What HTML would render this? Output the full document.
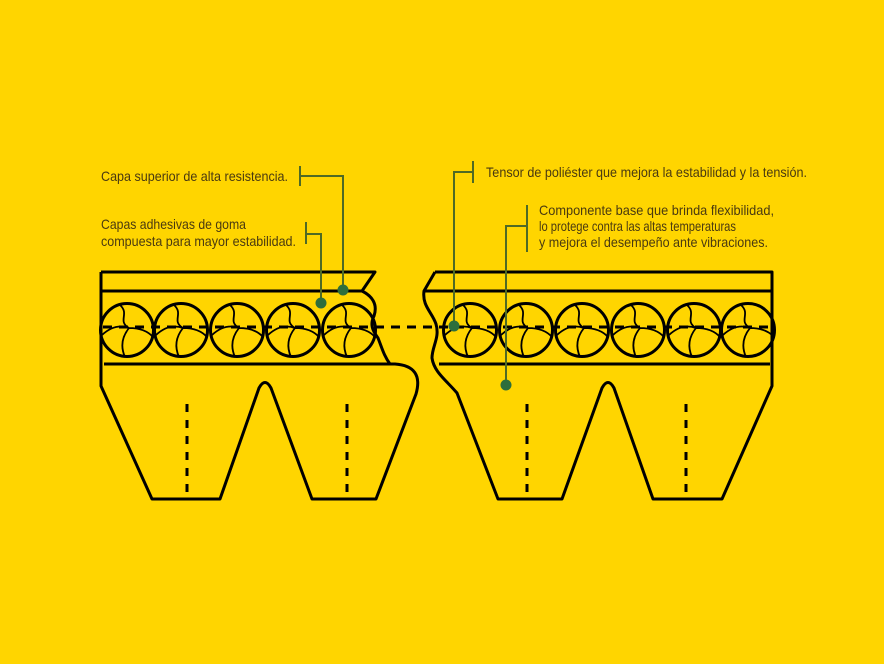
<!DOCTYPE html>
<html><head><meta charset="utf-8"><style>
html,body{margin:0;padding:0;background:#FFD500;}
svg{display:block}
text{font-family:"Liberation Sans Narrow","Liberation Sans",sans-serif;font-size:14px;fill:#4a3a10}
</style></head><body>
<svg width="884" height="664" viewBox="0 0 884 664" xmlns="http://www.w3.org/2000/svg">
<rect width="884" height="664" fill="#FFD500"/>
<defs>
<g id="c">
<circle cx="0" cy="0" r="26.5" fill="none" stroke="#000" stroke-width="3"/>
<path d="M-7,-25 C3,-16 -10,-9 2,-2 C-6,8 -6,18 -2,27 M-25,5 Q-12,-7 2,-2 Q18,-2 26,7" fill="none" stroke="#000" stroke-width="1.8"/>
</g>
</defs>
<g fill="none" stroke="#000" stroke-width="3" stroke-linejoin="round">
<!-- left piece -->
<path d="M101,272 L375,272 L362,291 C372,296 378,304 374,316 C370,324 372,330 378,338 C382,348 384,356 390,364"/>
<path d="M101,272 L101,386 L152,499 L220,499 L259,388 Q265,377 271,388 L312,499 L376,499 L416,394 Q424,366 395,364 L390,364"/>
<line x1="101" y1="291" x2="362" y2="291"/>
<line x1="104" y1="364" x2="391" y2="364"/>
<!-- right piece -->
<path d="M435,272 L772,272 L772,386 L722,499 L653,499 L614,388 Q608,377 602,388 L562,499 L498,499 L457,393 C446,380 434,372 432,358 C432,346 440,338 436,324 C432,312 422,306 424,291 L435,272"/>
<line x1="424" y1="291" x2="772" y2="291"/>
<line x1="439" y1="364" x2="770" y2="364"/>
</g>
<g>
<use href="#c" x="127" y="330"/><use href="#c" x="181" y="330"/><use href="#c" x="237" y="330"/><use href="#c" x="293" y="330"/><use href="#c" x="349" y="330"/>
<use href="#c" x="470" y="330"/><use href="#c" x="526" y="330"/><use href="#c" x="582" y="330"/><use href="#c" x="638" y="330"/><use href="#c" x="694" y="330"/><use href="#c" x="748" y="330"/>
</g>
<g stroke="#000" stroke-width="3" stroke-dasharray="9,7" fill="none">
<line x1="103" y1="327" x2="772" y2="327"/>
<line x1="187" y1="404" x2="187" y2="496" stroke-dasharray="8,8"/>
<line x1="347" y1="404" x2="347" y2="496" stroke-dasharray="8,8"/>
<line x1="527" y1="404" x2="527" y2="496" stroke-dasharray="8,8"/>
<line x1="686" y1="404" x2="686" y2="496" stroke-dasharray="8,8"/>
</g>
<g fill="none" stroke-width="2">
<path d="M300,166 V186 M300,176 H343 V290" stroke="#4f6a25"/>
<path d="M306,222 V244 M306,234 H321 V303" stroke="#4f6a25"/>
<path d="M473,161 V183 M473,172 H454 V326" stroke="#4f6a25"/>
<path d="M527,205 V252 M527,226 H506 V385" stroke="#4f6a25"/>
</g>
<g fill="#2e6e3c">
<circle cx="343" cy="290" r="5.5"/><circle cx="321" cy="303" r="5.5"/><circle cx="454" cy="326" r="5.5"/><circle cx="506" cy="385" r="5.5"/>
</g>
<text x="101" y="181" textLength="187" lengthAdjust="spacingAndGlyphs">Capa superior de alta resistencia.</text>
<text x="101" y="229" textLength="145" lengthAdjust="spacingAndGlyphs">Capas adhesivas de goma</text>
<text x="101" y="246" textLength="195" lengthAdjust="spacingAndGlyphs">compuesta para mayor estabilidad.</text>
<text x="486" y="177" textLength="321" lengthAdjust="spacingAndGlyphs">Tensor de poliéster que mejora la estabilidad y la tensión.</text>
<text x="539" y="215" textLength="235" lengthAdjust="spacingAndGlyphs">Componente base que brinda flexibilidad,</text>
<text x="539" y="231" textLength="197" lengthAdjust="spacingAndGlyphs">lo protege contra las altas temperaturas</text>
<text x="539" y="247" textLength="229" lengthAdjust="spacingAndGlyphs">y mejora el desempeño ante vibraciones.</text>
</svg>
</body></html>
